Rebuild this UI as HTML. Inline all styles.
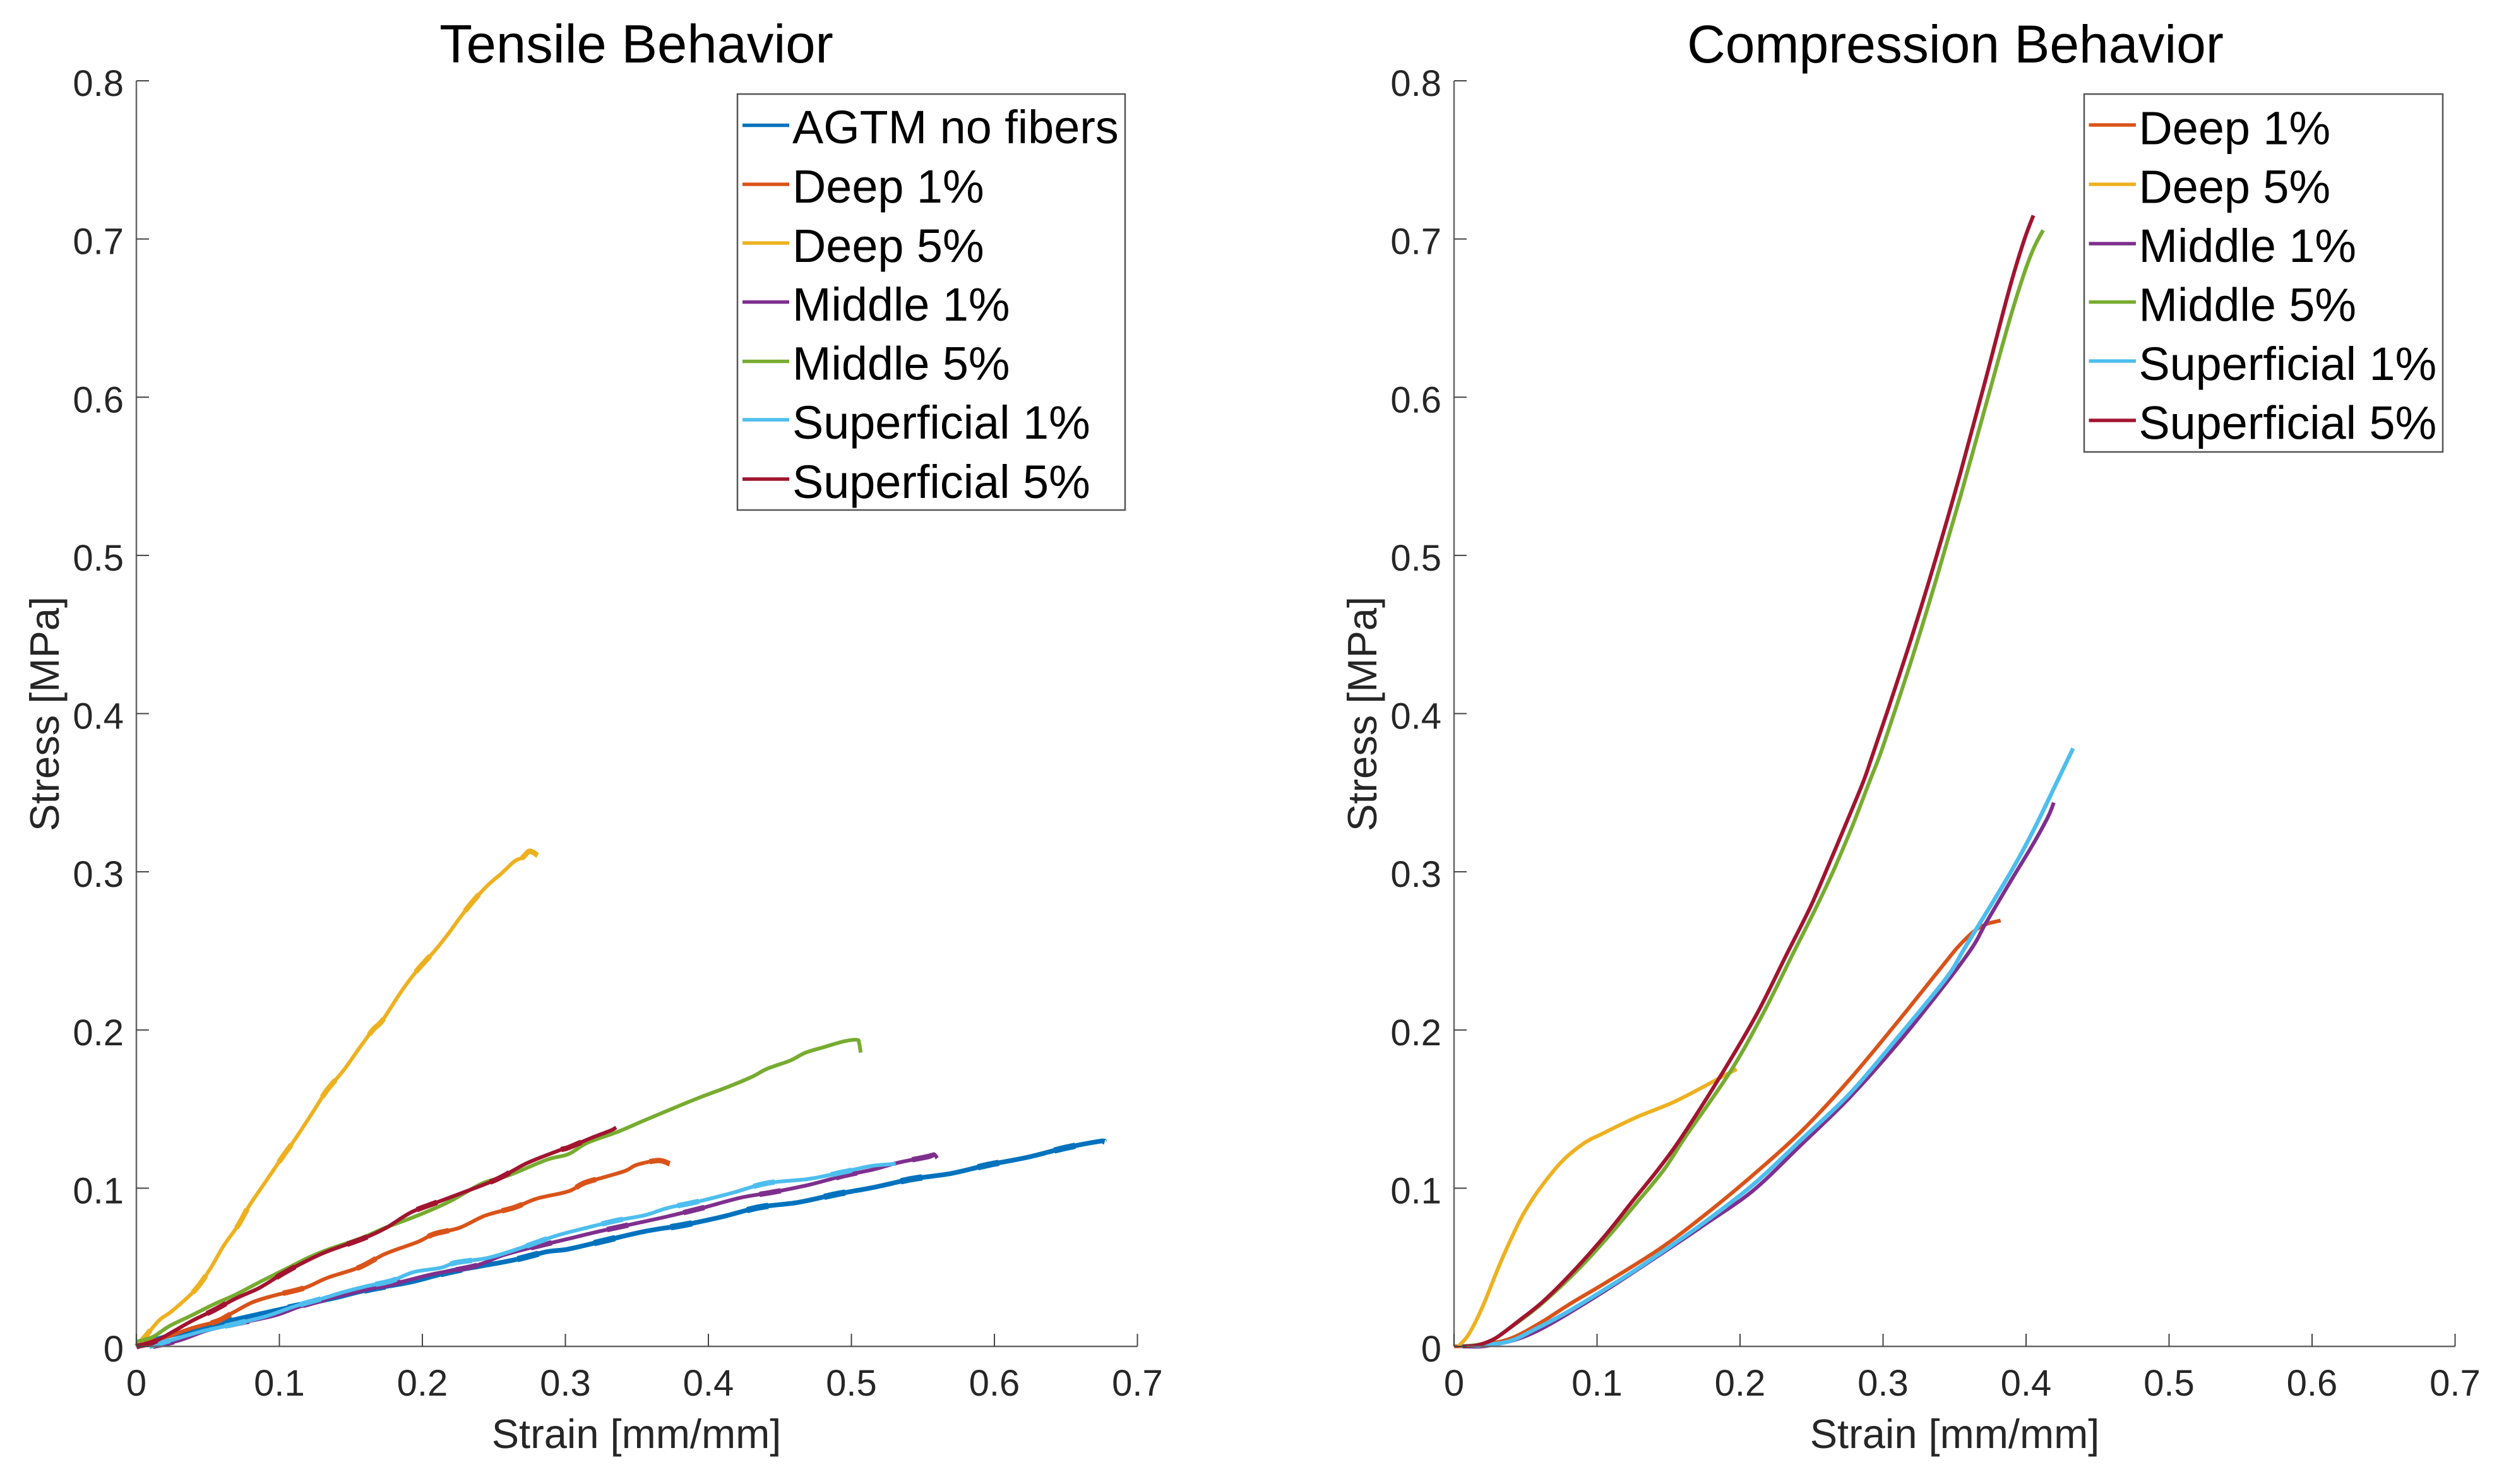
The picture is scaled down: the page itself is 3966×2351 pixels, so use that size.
<!DOCTYPE html>
<html lang="en">
<head>
<meta charset="utf-8">
<title>Tensile and Compression Behavior</title>
<style>
html,body{margin:0;padding:0;background:#fff;}
svg{display:block;font-family:"Liberation Sans",Arial,sans-serif;}
.tick-label{font-size:58px;fill:#262626;}
.axis-title{font-size:65px;fill:#262626;text-anchor:middle;}
.chart-title{font-size:84px;fill:#000;text-anchor:middle;}
.legend-text{font-size:73.8px;fill:#000;}
.legend-box{fill:#fff;stroke:#555;stroke-width:2.5;}
.legend-swatch{stroke-width:5.5;fill:none;}
.curve{fill:none;stroke-linejoin:round;stroke-linecap:butt;}
</style>
</head>
<body>
<svg id="figure" width="3966" height="2351" viewBox="0 0 3966 2351" xmlns="http://www.w3.org/2000/svg">
  <rect x="0" y="0" width="3966" height="2351" fill="#fff"/>

  <g id="tensile-plot">
    <g id="tensile-curves"></g>
    <g id="tensile-axes"></g>
    <text class="chart-title" x="1008" y="99" style="font-size:85px">Tensile Behavior</text>
    <text class="axis-title" x="1008" y="2294">Strain [mm/mm]</text>
    <text class="axis-title" transform="translate(93 1131) rotate(-90)">Stress [MPa]</text>
    <g>
      <rect class="legend-box" x="1168" y="149" width="614" height="659"/>
      <line class="legend-swatch" x1="1176" x2="1250" y1="198.5" y2="198.5" stroke="#0072BD"/>
      <text class="legend-text" x="1255" y="227">AGTM no fibers</text>
      <line class="legend-swatch" x1="1176" x2="1250" y1="292" y2="292" stroke="#D95319"/>
      <text class="legend-text" x="1255" y="321">Deep 1%</text>
      <line class="legend-swatch" x1="1176" x2="1250" y1="385" y2="385" stroke="#EDB120"/>
      <text class="legend-text" x="1255" y="415">Deep 5%</text>
      <line class="legend-swatch" x1="1176" x2="1250" y1="478.5" y2="478.5" stroke="#7E2F8E"/>
      <text class="legend-text" x="1255" y="508">Middle 1%</text>
      <line class="legend-swatch" x1="1176" x2="1250" y1="572.5" y2="572.5" stroke="#77AC30"/>
      <text class="legend-text" x="1255" y="601.5">Middle 5%</text>
      <line class="legend-swatch" x1="1176" x2="1250" y1="665" y2="665" stroke="#4DBEEE"/>
      <text class="legend-text" x="1255" y="695">Superficial 1%</text>
      <line class="legend-swatch" x1="1176" x2="1250" y1="759" y2="759" stroke="#A2142F"/>
      <text class="legend-text" x="1255" y="789">Superficial 5%</text>
    </g>
  </g>

  <g id="compression-plot">
    <g id="compression-curves"></g>
    <g id="compression-axes"></g>
    <text class="chart-title" x="3097" y="99">Compression Behavior</text>
    <text class="axis-title" x="3096" y="2294">Strain [mm/mm]</text>
    <text class="axis-title" transform="translate(2180 1131) rotate(-90)">Stress [MPa]</text>
    <g>
      <rect class="legend-box" x="3301" y="149" width="568" height="567"/>
      <line class="legend-swatch" x1="3308.5" x2="3383" y1="198" y2="198" stroke="#D95319"/>
      <text class="legend-text" x="3387.5" y="228.5">Deep 1%</text>
      <line class="legend-swatch" x1="3308.5" x2="3383" y1="292" y2="292" stroke="#EDB120"/>
      <text class="legend-text" x="3387.5" y="321.5">Deep 5%</text>
      <line class="legend-swatch" x1="3308.5" x2="3383" y1="386" y2="386" stroke="#7E2F8E"/>
      <text class="legend-text" x="3387.5" y="415">Middle 1%</text>
      <line class="legend-swatch" x1="3308.5" x2="3383" y1="478.5" y2="478.5" stroke="#77AC30"/>
      <text class="legend-text" x="3387.5" y="508.5">Middle 5%</text>
      <line class="legend-swatch" x1="3308.5" x2="3383" y1="572" y2="572" stroke="#4DBEEE"/>
      <text class="legend-text" x="3387.5" y="602">Superficial 1%</text>
      <line class="legend-swatch" x1="3308.5" x2="3383" y1="666" y2="666" stroke="#A2142F"/>
      <text class="legend-text" x="3387.5" y="695.5">Superficial 5%</text>
    </g>
  </g>
</svg>

<script>
const xTicks = [0, 0.1, 0.2, 0.3, 0.4, 0.5, 0.6, 0.7];
const yTicks = [0, 0.1, 0.2, 0.3, 0.4, 0.5, 0.6, 0.7, 0.8];
const xTickLabels = ['0', '0.1', '0.2', '0.3', '0.4', '0.5', '0.6', '0.7'];
const yTickLabels = ['0', '0.1', '0.2', '0.3', '0.4', '0.5', '0.6', '0.7', '0.8'];

/* Tensile: [strain, stress] */
const tensileAgtm = [[0,0],[.016,.005],[.0386,.0102],[.061,.0153],[.0837,.02],[.111,.0254],[.138,.0305],[.163,.036],[.192,.0407],[.219,.047],[.2418,.0509],[.2643,.0547],[.287,.0598],[.302,.0615],[.329,.0672],[.3556,.0727],[.3823,.0767],[.409,.0818],[.436,.088],[.4626,.091],[.489,.0961],[.516,.1006],[.543,.1059],[.5697,.1093],[.596,.1148],[.623,.1195],[.65,.1256],[.674,.1297],[.677,.129]];
const tensileDeep1 = [[0,0],[.016,.0043],[.0386,.0115],[.0567,.016],[.068,.0216],[.0815,.028],[.097,.0323],[.1176,.037],[.1334,.0433],[.156,.05],[.174,.0585],[.1966,.066],[.208,.071],[.226,.075],[.244,.0827],[.2643,.0878],[.28,.0934],[.302,.098],[.3128,.1032],[.326,.1067],[.342,.111],[.35,.1148],[.365,.1175],[.373,.1154]];
const tensileDeep5 = [[0,0],[.005,.005],[.016,.0165],[.025,.0224],[.041,.0356],[.052,.0496],[.061,.0636],[.071,.0763],[.079,.089],[.0905,.1043],[.102,.1196],[.111,.131],[.124,.149],[.133,.1616],[.1447,.1743],[.1537,.1857],[.165,.1997],[.172,.206],[.185,.224],[.1966,.238],[.208,.2494],[.217,.2595],[.2305,.276],[.244,.29],[.2553,.299],[.2643,.3066],[.27,.309],[.275,.313],[.2806,.3104]];
const tensileMiddle1 = [[.0115,0],[.03,.0038],[.05,.0102],[.0725,.0148],[.097,.0196],[.115,.0254],[.1357,.0305],[.16,.0356],[.185,.0407],[.208,.0458],[.237,.0509],[.2553,.0573],[.2756,.0623],[.302,.068],[.3235,.0727],[.3475,.0774],[.3716,.0822],[.3957,.0875],[.4225,.094],[.4466,.0977],[.4706,.1022],[.4947,.1079],[.516,.112],[.532,.116],[.5536,.12],[.5576,.1215],[.56,.119]];
const tensileMiddle5 = [[0,.003],[.0115,.006],[.0228,.0127],[.0386,.0196],[.0544,.0267],[.07,.033],[.088,.0415],[.106,.0496],[.12,.056],[.1334,.061],[.158,.0687],[.174,.075],[.1966,.0827],[.219,.0916],[.2418,.103],[.26,.108],[.287,.118],[.302,.1215],[.3154,.1287],[.337,.1358],[.3556,.143],[.374,.15],[.393,.157],[.4144,.1643],[.4305,.1704],[.441,.1755],[.457,.1806],[.468,.1857],[.4813,.1893],[.4947,.1928],[.504,.1938],[.5054,.1918],[.5065,.1857]];
const tensileSuperficial1 = [[.009,0],[.027,.0046],[.0454,.0094],[.068,.014],[.0905,.019],[.111,.0254],[.129,.03],[.1447,.0343],[.1605,.038],[.1785,.0415],[.194,.047],[.2124,.0496],[.2237,.053],[.246,.056],[.269,.0623],[.2937,.07],[.318,.0757],[.337,.0798],[.3556,.0829],[.3716,.0875],[.393,.0916],[.417,.0971],[.441,.1032],[.4706,.1059],[.4947,.1103],[.5135,.114],[.531,.1154]];
const tensileSuperficial5 = [[0,0],[.0115,.0025],[.025,.009],[.0386,.016],[.0544,.023],[.07,.0305],[.086,.037],[.102,.0458],[.1176,.0534],[.1334,.06],[.158,.068],[.174,.0746],[.192,.0847],[.21,.091],[.2305,.098],[.253,.106],[.273,.1158],[.296,.124],[.302,.1256],[.318,.1317],[.3315,.1364],[.3355,.1384]];

/* Compression: [strain, stress] */
const compressionDeep1 = [[0,0],[.0167,.0008],[.0384,.0046],[.06,.0147],[.0817,.0272],[.1065,.0405],[.1437,.0616],[.1752,.083],[.209,.1083],[.2427,.1358],[.2765,.1686],[.3103,.2053],[.3441,.2434],[.3525,.2526],[.3628,.2618],[.3713,.2666],[.3822,.2692]];
const compressionDeep5 = [[.003,0],[.0105,.008],[.02,.0252],[.032,.052],[.0415,.0711],[.049,.0845],[.06,.0998],[.0755,.117],[.091,.1285],[.1038,.1345],[.1274,.1448],[.1545,.1548],[.1849,.1692],[.1976,.1753]];
const compressionMiddle1 = [[.005,0],[.023,.0004],[.054,.008],[.1,.032],[.15,.0616],[.1752,.077],[.209,.0984],[.2427,.1274],[.2765,.1572],[.3103,.1915],[.3441,.2297],[.3627,.2526],[.3713,.2666],[.3882,.2925],[.4051,.3178],[.4152,.3344],[.4194,.3437]];
const compressionMiddle5 = [[.005,0],[.023,.0023],[.038,.011],[.06,.026],[.085,.047],[.1065,.068],[.128,.091],[.147,.112],[.1621,.1329],[.1933,.1738],[.2161,.2104],[.2364,.2471],[.2533,.2776],[.266,.3021],[.2795,.3311],[.2905,.357],[.2972,.3723],[.3036,.3891],[.3206,.4359],[.3375,.4858],[.3544,.5382],[.3713,.5931],[.3882,.648],[.3984,.6776],[.4051,.6937],[.4119,.7056]];
const compressionSuperficial1 = [[.005,0],[.0167,.0004],[.0384,.0032],[.057,.011],[.0786,.0214],[.1,.033],[.125,.0472],[.15,.0625],[.1752,.0785],[.209,.1021],[.2427,.1305],[.2765,.1596],[.3103,.1953],[.3441,.2327],[.3576,.2526],[.3882,.2981],[.4051,.3261],[.422,.3575],[.4329,.378]];
const compressionSuperficial5 = [[.006,0],[.0167,.0008],[.029,.0052],[.0446,.0157],[.063,.029],[.085,.049],[.1065,.071],[.125,.092],[.1437,.113],[.1596,.1329],[.1883,.1738],[.2119,.2104],[.2322,.2471],[.2491,.2776],[.2609,.3021],[.2744,.3311],[.2862,.357],[.2921,.3723],[.3036,.403],[.3206,.45],[.3375,.4999],[.3544,.5531],[.3713,.6097],[.3882,.668],[.3984,.6986],[.4051,.7149]];

const SVGNS = 'http://www.w3.org/2000/svg';
const xAxisMax = 0.7, yAxisMax = 0.8;
const plotTop = 128, plotBottom = 2133, plotWidth = 1585.5;

function makeX(left) { return function (v) { return left + v / xAxisMax * plotWidth; }; }
function yScale(v) { return plotBottom - v / yAxisMax * (plotBottom - plotTop); }

function drawAxes(groupId, left, prefix) {
  const g = document.getElementById(groupId);
  const xs = makeX(left);
  const spineX = document.createElementNS(SVGNS, 'line');
  
  
  spineX.setAttribute('x1', left); spineX.setAttribute('x2', xs(xAxisMax));
  spineX.setAttribute('y1', plotBottom); spineX.setAttribute('y2', plotBottom);
  spineX.setAttribute('stroke', '#666'); spineX.setAttribute('stroke-width', '2.5');
  g.appendChild(spineX);
  const spineY = document.createElementNS(SVGNS, 'line');
  
  
  spineY.setAttribute('x1', left); spineY.setAttribute('x2', left);
  spineY.setAttribute('y1', plotTop); spineY.setAttribute('y2', plotBottom);
  spineY.setAttribute('stroke', '#666'); spineY.setAttribute('stroke-width', '2.5');
  g.appendChild(spineY);
  xTicks.forEach(function (t, i) {
    const tick = document.createElementNS(SVGNS, 'line');
    
    
    tick.setAttribute('x1', xs(t)); tick.setAttribute('x2', xs(t));
    tick.setAttribute('y1', plotBottom); tick.setAttribute('y2', plotBottom - 20);
    tick.setAttribute('stroke', '#444'); tick.setAttribute('stroke-width', '2');
    g.appendChild(tick);
    const label = document.createElementNS(SVGNS, 'text');
    
    
    label.setAttribute('class', 'tick-label');
    label.setAttribute('x', xs(t)); label.setAttribute('y', 2211);
    label.setAttribute('text-anchor', 'middle');
    label.textContent = xTickLabels[i];
    g.appendChild(label);
  });
  yTicks.forEach(function (t, i) {
    const tick = document.createElementNS(SVGNS, 'line');
    
    
    tick.setAttribute('x1', left); tick.setAttribute('x2', left + 20);
    tick.setAttribute('y1', yScale(t)); tick.setAttribute('y2', yScale(t));
    tick.setAttribute('stroke', '#444'); tick.setAttribute('stroke-width', '2');
    g.appendChild(tick);
    const label = document.createElementNS(SVGNS, 'text');
    
    
    label.setAttribute('class', 'tick-label');
    label.setAttribute('x', left - 20); label.setAttribute('y', yScale(t) + 24);
    label.setAttribute('text-anchor', 'end');
    label.textContent = yTickLabels[i];
    g.appendChild(label);
  });
}

function smoothPath(pts) {
  let d = 'M' + pts[0][0].toFixed(1) + ' ' + pts[0][1].toFixed(1);
  for (let i = 0; i < pts.length - 1; i++) {
    const p0 = pts[Math.max(i - 1, 0)], p1 = pts[i], p2 = pts[i + 1], p3 = pts[Math.min(i + 2, pts.length - 1)];
    const c1x = p1[0] + (p2[0] - p0[0]) / 6, c1y = p1[1] + (p2[1] - p0[1]) / 6;
    const c2x = p2[0] - (p3[0] - p1[0]) / 6, c2y = p2[1] - (p3[1] - p1[1]) / 6;
    d += 'C' + c1x.toFixed(1) + ' ' + c1y.toFixed(1) + ' ' + c2x.toFixed(1) + ' ' + c2y.toFixed(1) + ' ' + p2[0].toFixed(1) + ' ' + p2[1].toFixed(1);
  }
  return d;
}

function drawCurve(groupId, left, data, color, name, width, dashes) {
  const xs = makeX(left);
  const pts = data.map(function (p) { return [xs(p[0]), yScale(p[1])]; });
  const d = smoothPath(pts);
  const path = document.createElementNS(SVGNS, 'path');
  
  
  path.setAttribute('class', 'curve');
  path.setAttribute('stroke', color);
  path.setAttribute('stroke-width', width);
  path.setAttribute('d', d);
  document.getElementById(groupId).appendChild(path);
  if (dashes) {
    const rep = document.createElementNS(SVGNS, 'path');
    
    
    rep.setAttribute('class', 'curve');
    rep.setAttribute('stroke', color);
    rep.setAttribute('stroke-width', width + 2.5);
    rep.setAttribute('stroke-dasharray', '34 90');
    rep.setAttribute('d', d);
    document.getElementById(groupId).appendChild(rep);
  }
}

const leftTensile = 216, leftCompression = 2303;
drawCurve('tensile-curves', leftTensile, tensileAgtm, '#0072BD', 'tensile-agtm-no-fibers-line', 7.5, true);
drawCurve('tensile-curves', leftTensile, tensileDeep1, '#D95319', 'tensile-deep-1-line', 6, true);
drawCurve('tensile-curves', leftTensile, tensileDeep5, '#EDB120', 'tensile-deep-5-line', 6, true);
drawCurve('tensile-curves', leftTensile, tensileMiddle1, '#7E2F8E', 'tensile-middle-1-line', 6, true);
drawCurve('tensile-curves', leftTensile, tensileMiddle5, '#77AC30', 'tensile-middle-5-line', 6, false);
drawCurve('tensile-curves', leftTensile, tensileSuperficial1, '#4DBEEE', 'tensile-superficial-1-line', 6, true);
drawCurve('tensile-curves', leftTensile, tensileSuperficial5, '#A2142F', 'tensile-superficial-5-line', 6, true);

drawCurve('compression-curves', leftCompression, compressionDeep1, '#D95319', 'compression-deep-1-line', 6, false);
drawCurve('compression-curves', leftCompression, compressionDeep5, '#EDB120', 'compression-deep-5-line', 6, false);
drawCurve('compression-curves', leftCompression, compressionMiddle1, '#7E2F8E', 'compression-middle-1-line', 6, false);
drawCurve('compression-curves', leftCompression, compressionMiddle5, '#77AC30', 'compression-middle-5-line', 6, false);
drawCurve('compression-curves', leftCompression, compressionSuperficial1, '#4DBEEE', 'compression-superficial-1-line', 6.5, false);
drawCurve('compression-curves', leftCompression, compressionSuperficial5, '#A2142F', 'compression-superficial-5-line', 6, false);

drawAxes('tensile-axes', leftTensile, 'tensile');
drawAxes('compression-axes', leftCompression, 'compression');
</script>
</body>
</html>
